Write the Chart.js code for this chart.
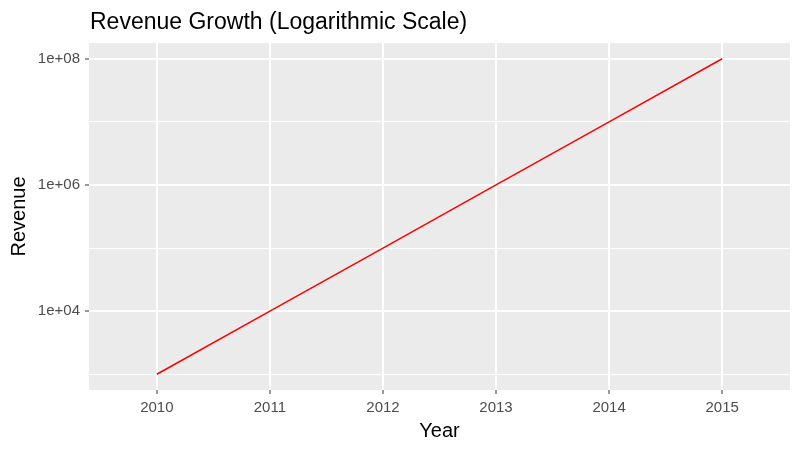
<!DOCTYPE html>
<html>
<head>
<meta charset="UTF-8">
<script src="https://cdn.jsdelivr.net/npm/chart.js"></script>
<style>
  html, body { margin: 0; padding: 0; background: #fff; }
  #wrap { width: 800px; height: 451px; }
</style>
</head>
<body>
<div id="wrap"><canvas id="chartCanvas" width="800" height="451"></canvas></div>
<script>
const years = [2010, 2011, 2012, 2013, 2014, 2015]
const revenue = [1e3, 1e4, 1e5, 1e6, 1e7, 1e8]
const yTicks = [1e3, 1e4, 1e5, 1e6, 1e7, 1e8]
const yLabels = {1e4: "1e+04", 1e6: "1e+06", 1e8: "1e+08"}
const chartTitle = "Revenue Growth (Logarithmic Scale)"

// grey panel + title, the ggplot look
const panelBg = {
  id: "panelBg",
  beforeDraw(chart) {
    const a = chart.chartArea
    const ctx = chart.ctx
    ctx.save()
    ctx.fillStyle = "#EBEBEB"
    ctx.fillRect(a.left, a.top, a.right - a.left, a.bottom - a.top)
    ctx.restore()
  },
  afterDraw(chart) {
    const ctx = chart.ctx
    ctx.save()
    ctx.fillStyle = "#000"
    ctx.font = "23px 'Liberation Sans', Arial, sans-serif"
    ctx.textBaseline = "alphabetic"
    ctx.fillText(chartTitle, chart.chartArea.left + 1, 29)
    ctx.restore()
  }
}

const isMajor = v => yLabels[v] !== undefined

const ctx = document.getElementById("chartCanvas").getContext("2d")
new Chart(ctx, {
  type: "line",
  data: {
    datasets: [{
      data: years.map((y, i) => ({x: y, y: revenue[i]})),
      borderColor: "#FF0000",
      borderWidth: 1.5,
      pointRadius: 0,
      fill: false,
      tension: 0
    }]
  },
  options: {
    responsive: false,
    animation: false,
    layout: {padding: {top: 43, right: 10, left: 0, bottom: 0}},
    plugins: {legend: {display: false}, tooltip: {enabled: false}},
    scales: {
      x: {
        type: "linear",
        min: years[0] - 0.6,
        max: years[years.length - 1] + 0.6,
        afterBuildTicks: s => { s.ticks = years.map(v => ({value: v})) },
        afterFit: s => { s.height = 61 },
        border: {display: false},
        grid: {color: "#FFFFFF", lineWidth: 2, tickLength: 4, tickColor: "#333333", tickWidth: 1},
        ticks: {
          color: "#4D4D4D", padding: 5, maxRotation: 0,
          font: {family: "'Liberation Sans', Arial", size: 15},
          callback: v => String(v)
        },
        title: {
          display: true, text: "Year", color: "#000",
          font: {family: "'Liberation Sans', Arial", size: 20},
          padding: {top: 0, bottom: 8}
        }
      },
      y: {
        type: "logarithmic",
        min: Math.pow(10, 2.75),
        max: Math.pow(10, 8.25),
        afterBuildTicks: s => { s.ticks = yTicks.map(v => ({value: v})) },
        afterFit: s => { s.width = 89 },
        border: {display: false},
        grid: {
          color: "#FFFFFF",
          lineWidth: c => isMajor(c.tick.value) ? 2 : 1,
          tickLength: 4,
          tickColor: c => isMajor(c.tick.value) ? "#333333" : "rgba(0,0,0,0)",
          tickWidth: 1
        },
        ticks: {
          color: "#4D4D4D", padding: 5,
          font: {family: "'Liberation Sans', Arial", size: 15},
          callback: v => yLabels[v] || ""
        },
        title: {
          display: true, text: "Revenue", color: "#000",
          font: {family: "'Liberation Sans', Arial", size: 20},
          padding: {top: 7, bottom: 0}
        }
      }
    }
  },
  plugins: [panelBg]
})
</script>
</body>
</html>
